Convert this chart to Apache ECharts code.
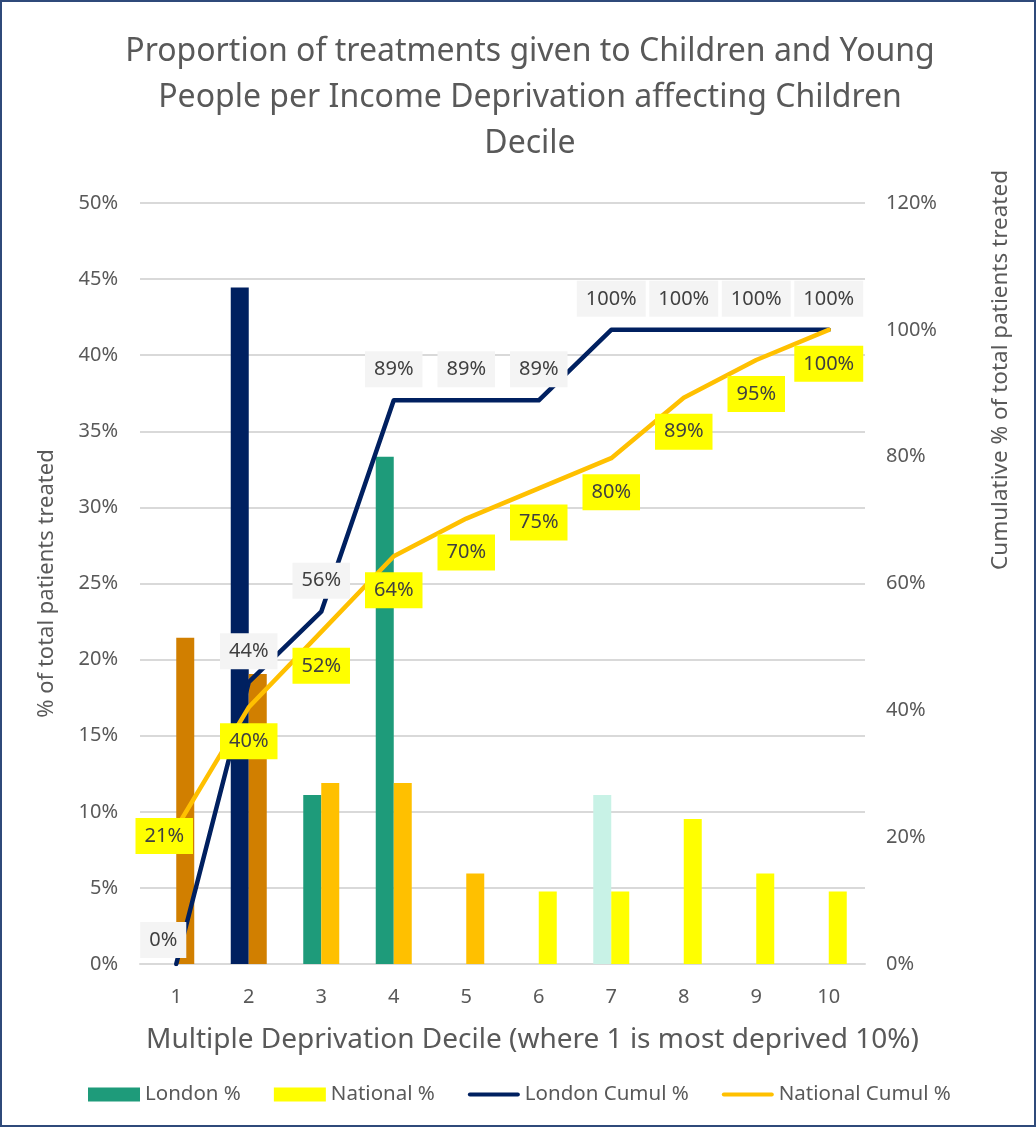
<!DOCTYPE html>
<html>
<head>
<meta charset="utf-8">
<script src="https://cdn.jsdelivr.net/npm/echarts@6/dist/echarts.min.js"></script>
<style>
html, body { margin: 0; padding: 0; background: #fff; }
#chart-box { width: 1036px; height: 1127px; box-sizing: border-box; border: 2px solid #2F4A7A; }
</style>
</head>
<body>
<div id="chart-box"></div>
<script>
// deciles on the x axis
var deciles = ['1', '2', '3', '4', '5', '6', '7', '8', '9', '10'];
// share of patients per decile (%)
var londonPct = [0, 44.44, 11.11, 33.33, 0, 0, 11.11, 0, 0, 0];
var nationalPct = [21.43, 19.05, 11.90, 11.90, 5.95, 4.76, 4.76, 9.52, 5.95, 4.76];
// cumulative share (%)
var londonCumul = [0, 44.44, 55.56, 88.89, 88.89, 88.89, 100, 100, 100, 100];
var nationalCumul = [21.43, 40.48, 52.38, 64.29, 70.24, 75.00, 79.76, 89.29, 95.24, 100];
// tick labels
var leftTicks = [0, 5, 10, 15, 20, 25, 30, 35, 40, 45, 50];
var rightTicks = [0, 20, 40, 60, 80, 100, 120];

// per bar colours
var londonColors = ['#1E9B7A', '#002060', '#1E9B7A', '#1E9B7A', '#1E9B7A', '#1E9B7A', '#C8F2E6', '#1E9B7A', '#1E9B7A', '#1E9B7A'];
var nationalColors = ['#D17F00', '#D17F00', '#FFC000', '#FFC000', '#FFC000', '#FFFF00', '#FFFF00', '#FFFF00', '#FFFF00', '#FFFF00'];

var font = '"Noto Sans", sans-serif';
var grey = '#595959';

var myChart = echarts.init(document.getElementById('chart-box'));

var londonLineData = londonCumul.map(function(v, i) {
    if (i === 0) {
        return { value: v, label: { position: 'inside', offset: [-13, -24] } };
    }
    return v;
});
var nationalLineData = nationalCumul.map(function(v, i) {
    if (i === 0) {
        return { value: v, label: { position: 'inside', offset: [-12, 8] } };
    }
    return v;
});

var lineIcon = 'path://M2,0 L50,0 A2,2 0 0 1 50,4 L2,4 A2,2 0 0 1 2,0 Z';

var option = {
    animation: false,
    textStyle: { fontFamily: font },
    title: {
        text: 'Proportion of treatments given to Children and Young\nPeople per Income Deprivation affecting Children\nDecile',
        left: 523,
        textAlign: 'center',
        top: 22,
        textStyle: {
            fontFamily: font,
            fontSize: 32,
            fontWeight: 'normal',
            color: grey,
            lineHeight: 46
        }
    },
    legend: {
        left: 86,
        top: 1082,
        padding: 0,
        itemWidth: 52,
        itemHeight: 14,
        itemGap: 33,
        textStyle: { fontFamily: font, fontSize: 20.5, color: grey, padding: [0, 0, 0, 0] },
        data: [
            { name: 'London %', icon: 'rect', itemStyle: { color: '#1E9B7A' } },
            { name: 'National %', icon: 'rect', itemStyle: { color: '#FFFF00' } },
            { name: 'London Cumul %', icon: lineIcon, itemStyle: { color: '#002060' } },
            { name: 'National Cumul %', icon: lineIcon, itemStyle: { color: '#FFC000' } }
        ]
    },
    grid: {
        left: 138,
        right: 169,
        top: 201,
        bottom: 161
    },
    xAxis: {
        type: 'category',
        data: deciles,
        name: 'Multiple Deprivation Decile (where 1 is most deprived 10%)',
        nameLocation: 'middle',
        nameGap: 62,
        nameTextStyle: { fontFamily: font, fontSize: 28, color: grey, padding: [0, 0, 0, 60] },
        axisLine: { lineStyle: { color: '#D9D9D9', width: 2 } },
        axisTick: { show: false },
        axisLabel: { color: grey, fontSize: 20, margin: 23 }
    },
    yAxis: [{
        type: 'value',
        min: 0,
        max: 50,
        interval: 5,
        name: '% of total patients treated',
        nameLocation: 'middle',
        nameGap: 82,
        nameTextStyle: { fontFamily: font, fontSize: 22, color: grey },
        axisLine: { show: false },
        axisTick: { show: false },
        splitLine: { lineStyle: { color: '#D9D9D9', width: 2 } },
        axisLabel: {
            color: grey,
            fontSize: 20,
            margin: 22,
            formatter: function(v) { return leftTicks.indexOf(v) > -1 ? v + '%' : ''; }
        }
    }, {
        type: 'value',
        min: 0,
        max: 120,
        interval: 20,
        axisLine: { show: false },
        axisTick: { show: false },
        splitLine: { show: false },
        axisLabel: {
            color: grey,
            fontSize: 20,
            margin: 21,
            formatter: function(v) { return rightTicks.indexOf(v) > -1 ? v + '%' : ''; }
        }
    }],
    graphic: [{
        type: 'text',
        x: 999,
        y: 368,
        rotation: Math.PI / 2,
        style: {
            text: 'Cumulative % of total patients treated',
            fontFamily: font,
            fontSize: 22.5,
            fill: grey,
            textAlign: 'center',
            textVerticalAlign: 'middle'
        }
    }],
    series: [{
        name: 'London %',
        type: 'bar',
        barWidth: 18,
        barGap: '0%',
        data: londonPct.map(function(v, i) {
            return { value: v, itemStyle: { color: londonColors[i] } };
        })
    }, {
        name: 'National %',
        type: 'bar',
        barWidth: 18,
        barGap: '0%',
        data: nationalPct.map(function(v, i) {
            return { value: v, itemStyle: { color: nationalColors[i] } };
        })
    }, {
        name: 'London Cumul %',
        type: 'line',
        yAxisIndex: 1,
        symbol: 'circle',
        symbolSize: 0,
        showSymbol: true,
        z: 3,
        lineStyle: { color: '#002060', width: 4.5, cap: 'round', join: 'round' },
        itemStyle: { color: '#002060' },
        label: {
            show: true,
            position: 'top',
            distance: 13,
            color: '#404040',
            fontSize: 20,
            lineHeight: 22,
            backgroundColor: '#F4F4F4',
            padding: [7, 9],
            formatter: function(p) { return Math.round(p.value) + '%'; }
        },
        data: londonLineData
    }, {
        name: 'National Cumul %',
        type: 'line',
        yAxisIndex: 1,
        symbol: 'circle',
        symbolSize: 0,
        showSymbol: true,
        z: 4,
        lineStyle: { color: '#FFC000', width: 4.5, cap: 'round', join: 'round' },
        itemStyle: { color: '#FFC000' },
        label: {
            show: true,
            position: 'bottom',
            distance: 16,
            color: '#404040',
            fontSize: 20,
            lineHeight: 22,
            backgroundColor: '#FFFF00',
            padding: [7, 9],
            formatter: function(p) { return Math.round(p.value) + '%'; }
        },
        data: nationalLineData
    }]
};

myChart.setOption(option);
</script>
</body>
</html>
